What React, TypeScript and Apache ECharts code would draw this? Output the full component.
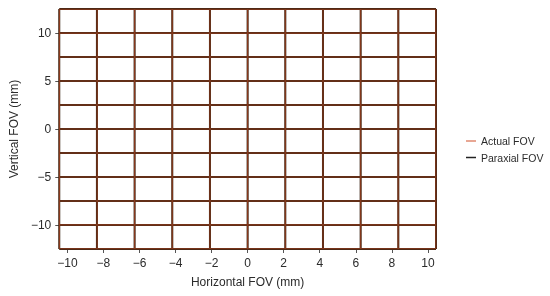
import React, { useEffect, useRef } from "react";
import * as echarts from "echarts";

// Paraxial (ideal) grid positions, mm
const paraxialX = [-10.45, -8.36, -6.27, -4.18, -2.09, 0, 2.09, 4.18, 6.27, 8.36, 10.45];
const paraxialY = [-12.5, -10, -7.5, -5, -2.5, 0, 2.5, 5, 7.5, 10, 12.5];
// Actual (distorted) grid positions, mm
const actualX = [-10.44, -8.35, -6.27, -4.18, -2.09, 0, 2.09, 4.18, 6.27, 8.35, 10.44];
const actualY = [-12.48, -9.99, -7.5, -5, -2.5, 0, 2.5, 5, 7.5, 9.99, 12.48];

const xTicks = [-10, -8, -6, -4, -2, 0, 2, 4, 6, 8, 10];
const yTicks = [-10, -5, 0, 5, 10];

const FONT = "'Liberation Sans', Arial, sans-serif";
const TEXT = "#2b2b2b";

function gridSeries(name: string, xs: number[], ys: number[], color: string, width: number) {
  const out: any[] = [];
  const common = {
    name,
    type: "line",
    symbol: "none",
    silent: true,
    clip: false,
    color,
    lineStyle: { color, width },
  };
  xs.forEach((xv) => {
    out.push({ ...common, data: ys.map((yv) => [xv, yv]) });
  });
  ys.forEach((yv) => {
    out.push({ ...common, data: xs.map((xv) => [xv, yv]) });
  });
  return out;
}

export default function App() {
  const ref = useRef<HTMLDivElement>(null);
  useEffect(() => {
    if (!ref.current) return;
    const chart = echarts.init(ref.current, null, { renderer: "svg" });
    const fmt = (v: number) => String(v).replace("-", "\u2212");
    chart.setOption({
      animation: false,
      textStyle: { fontFamily: FONT },
      grid: { left: 59, right: 114, top: 9, bottom: 47 },
      xAxis: {
        type: "value",
        min: -10.45,
        max: 10.45,
        name: "Horizontal FOV (mm)",
        nameLocation: "middle",
        nameGap: 27,
        nameTextStyle: { fontFamily: FONT, fontSize: 12, color: TEXT },
        axisLine: { show: false, onZero: false },
        splitLine: { show: false },
        axisTick: { show: true, length: 4, customValues: xTicks, lineStyle: { color: "#555" } },
        axisLabel: {
          customValues: xTicks,
          formatter: fmt,
          fontFamily: FONT,
          fontSize: 12,
          color: TEXT,
          margin: 8,
        },
      },
      yAxis: {
        type: "value",
        min: -12.5,
        max: 12.5,
        name: "Vertical FOV (mm)",
        nameLocation: "middle",
        nameGap: 31,
        nameTextStyle: { fontFamily: FONT, fontSize: 12, color: TEXT },
        axisLine: { show: false, onZero: false },
        splitLine: { show: false },
        axisTick: { show: true, length: 4, customValues: yTicks, lineStyle: { color: "#555" } },
        axisLabel: {
          customValues: yTicks,
          formatter: fmt,
          fontFamily: FONT,
          fontSize: 12,
          color: TEXT,
          margin: 8,
        },
      },
      legend: {
        orient: "vertical",
        left: 466,
        top: 135.5,
        padding: 0,
        itemWidth: 10,
        itemHeight: 1.5,
        itemGap: 5.5,
        icon: "rect",
        textStyle: { fontFamily: FONT, fontSize: 10.5, color: TEXT },
        data: [
          { name: "Actual FOV", itemStyle: { color: "#e08a70" } },
          { name: "Paraxial FOV", itemStyle: { color: "#222222" } },
        ],
      },
      series: [
        ...gridSeries("Paraxial FOV", paraxialX, paraxialY, "#3a2414", 2),
        ...gridSeries("Actual FOV", actualX, actualY, "#8c3a1c", 1.1),
      ],
    });
    return () => chart.dispose();
  }, []);
  return (
    <div
      ref={ref}
      style={{ position: "fixed", left: 0, top: 0, width: 550, height: 296 }}
    />
  );
}
